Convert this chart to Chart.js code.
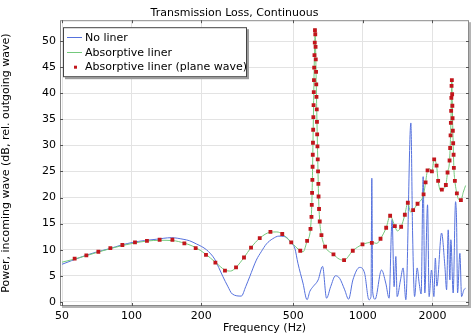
<!DOCTYPE html>
<html>
<head>
<meta charset="utf-8">
<title>Transmission Loss, Continuous</title>
<script src="https://cdn.jsdelivr.net/npm/chart.js@4"></script>
<style>
  html, body { margin: 0; padding: 0; background: #fff; }
  canvas { display: block; }
</style>
</head>
<body>
<canvas id="tl-chart" width="474" height="336"></canvas>
<script>
/* Transmission loss of the duct: no liner vs. absorptive liner */

const xTickValues = [50, 100, 200, 500, 1000, 2000];

// No liner
const noLinerFreq = [50, 55, 61.5, 69.9, 80.3, 90.5, 101.3, 113.8, 127.9, 148.6, 166.9, 178.3, 190.6, 200.9, 210.6,
  219.8, 228.6, 238, 248.5, 260.4, 272.6, 298.2, 311.5, 324.1, 346.3, 363.6, 383, 407.8, 433.6, 452.7, 469.7,
  487.8, 508, 524, 551, 574, 590, 609, 641, 670, 697, 726, 762, 794, 835, 868, 906, 969, 1018, 1063, 1085,
  1094, 1103, 1130, 1205, 1257, 1299, 1339, 1366, 1390, 1408, 1456, 1494, 1535, 1614, 1642, 1675, 1719, 1753,
  1788, 1824, 1855, 1906, 1936, 1983, 2030, 2060, 2091, 2191, 2265, 2304, 2341, 2381, 2404, 2460, 2519, 2544,
  2570, 2630, 2675, 2737, 2784];
const noLinerDb = [7.2, 7.9, 8.7, 9.5, 10.2, 10.9, 11.4, 11.75, 12.0, 12.3, 12.0, 11.7, 11.1, 10.6, 10.0,
  9.2, 8.2, 6.6, 4.8, 3.0, 1.5, 1.1, 2.9, 4.8, 8.0, 9.6, 11.1, 12.1, 12.6, 12.55, 12.3,
  11.4, 10.3, 7.4, 3.6, 0.4, 2.0, 2.9, 4.2, 6.8, 0.7, 2.9, 5.0, 4.5, 2.3, 0.5, 4.2, 6.6, 5.5, 0.4, 1.0,
  23.7, 2.0, 0.5, 6.1, 3.6, 0.7, 15.8, 2.9, 8.7, 1.0, 4.2, 6.5, 0.4, 34.3, 13.2, 1.0, 6.5, 3.6,
  1.5, 24.0, 1.7, 18.6, 1.0, 6.1, 1.0, 8.4, 3.0, 13.2, 6.8, 2.3, 13.8, 4.2, 11.9, 1.7, 19.2, 15.7,
  1.7, 9.3, 1.0, 2.3, 2.6];

// Absorptive liner (full model)
const linerFreq = [50, 56.7, 63.7, 71.8, 80.9, 91.2, 103.4, 116.5, 132.2, 150.1, 169.1, 189.3, 209.7, 230.3,
  253.4, 268, 282.9, 306.3, 328.5, 358.2, 398.5, 425, 448.3, 490.3, 536.3, 552, 574.3, 593.9, 601.6, 605.2,
  608.8, 612.5, 616.1, 619.8, 621.5, 624.7, 629.1, 633.5, 638.5, 643.6, 651.3, 662.4, 686.5, 746.7, 790,
  829.9, 905.1, 997, 1094, 1150, 1193, 1262, 1313, 1376, 1410, 1465, 1520, 1566, 1610, 1651, 1725, 1832,
  1869, 1906, 1950, 1990, 2036, 2085, 2118, 2170, 2198, 2287, 2326, 2373, 2397, 2411, 2421, 2428, 2435,
  2445, 2460, 2477, 2502, 2552, 2600, 2657, 2720, 2784];
const linerDb = [7.6, 8.2, 8.85, 9.55, 10.2, 10.8, 11.3, 11.65, 11.8, 11.75, 11.25, 10.4, 9.1, 7.6,
  6.1, 5.9, 6.6, 8.5, 10.4, 12.2, 13.35, 13.4, 13.0, 11.4, 9.8, 9.6, 11.7, 14.0, 18.6, 23.4,
  30.5, 37.7, 44.9, 49.7, 52.4, 48.9, 41.7, 34.5, 27.3, 20.2, 15.4, 12.8, 10.6, 9.1, 8.2,
  8.0, 9.8, 11.0, 11.4, 11.2, 12.1, 14.2, 16.5, 14.5, 13.6, 14.4, 16.7, 19.0, 17.2, 17.6, 18.8, 20.6,
  22.9, 25.2, 25.5, 25.0, 27.3, 26.1, 23.2, 21.3, 21.5, 22.4, 24.8, 27.1, 31.9, 36.6, 41.4, 42.6, 39.8,
  35.2, 30.4, 25.7, 23.2, 20.8, 19.6, 19.5, 21.0, 22.3];

// Absorptive liner (plane wave approximation), drawn as markers
const planeFreq = [56.7, 63.7, 71.8, 80.9, 91.2, 103.4, 116.5, 132.2, 150.1, 169.1, 189.3, 209.7, 230.3, 253.4,
  282.9, 306.3, 328.5, 358.2, 398.5, 448.3, 490.3, 536.3, 574.3, 593.9, 599.8, 601.6, 603.4, 605.2, 606.4,
  607.6, 608.8, 610.1, 611.2, 612.5, 613.7, 614.9, 616.1, 617.9, 619.8, 621.0, 622.9, 624.7, 626.0, 627.8,
  629.1, 630.3, 632.2, 633.5, 634.7, 636.6, 638.5, 640.4, 642.3, 643.6, 646.8, 651.3, 662.4, 686.5, 746.7,
  829.9, 905.1, 997, 1094, 1193, 1262, 1313, 1376, 1465, 1520, 1566, 1651, 1725, 1832, 1869, 1906, 1990,
  2036, 2085, 2118, 2198, 2287, 2326, 2373, 2387, 2397, 2404, 2411, 2416, 2421, 2428, 2435, 2440, 2445,
  2452, 2460, 2470, 2477, 2502, 2552, 2657];
const planeDb = [8.3, 8.9, 9.6, 10.3, 10.9, 11.4, 11.7, 11.9, 11.9, 11.2, 10.3, 9.0, 7.5, 6.0,
  6.6, 8.5, 10.4, 12.2, 13.4, 13.0, 11.4, 9.8, 11.7, 14.0, 16.3, 18.6, 20.9, 23.4, 25.9,
  28.2, 30.5, 33.0, 35.4, 37.7, 40.2, 42.5, 44.9, 47.3, 49.7, 52.1, 51.3, 48.9, 46.5, 44.1,
  41.7, 39.3, 36.9, 34.5, 32.1, 29.8, 27.3, 25.0, 22.6, 20.2, 17.8, 15.4, 12.8, 10.6, 9.1,
  8.0, 9.8, 11.0, 11.3, 12.1, 14.2, 16.5, 14.5, 14.4, 16.7, 19.0, 17.6, 18.8, 20.6, 22.9, 25.2, 25.0,
  27.3, 26.1, 23.2, 21.5, 22.4, 24.8, 27.1, 29.5, 31.9, 34.3, 36.6, 39.1, 41.4, 42.5, 39.8, 37.6, 35.2,
  32.8, 30.4, 28.2, 25.7, 23.2, 20.8, 19.5];

const FONT = "'DejaVu Sans', sans-serif";
const BLUE = '#5571dd';
const GREEN = '#74c97c';
const RED = '#c2161c';

const toPoints = (xs, ys) => xs.map((x, i) => ({ x, y: ys[i] }));

// plot frame with shadow + small inward ticks on all four sides
const framePlugin = {
  id: 'frame',
  afterDraw(chart) {
    const { ctx, chartArea: a } = chart;
    const sx = chart.scales.x, sy = chart.scales.y;
    ctx.save();
    ctx.fillStyle = '#b4b4b4';
    ctx.fillRect(a.right, a.top + 2, 2, a.bottom - a.top);
    ctx.fillRect(a.left + 2, a.bottom, a.right - a.left, 2);
    ctx.strokeStyle = '#8a8a8a';
    ctx.lineWidth = 1;
    ctx.strokeRect(a.left + 0.5, a.top + 0.5, a.right - a.left - 1, a.bottom - a.top - 1);

    ctx.strokeStyle = '#555';
    ctx.beginPath();
    sx.ticks.forEach(t => {
      const px = Math.round(sx.getPixelForValue(t.value)) + 0.5;
      ctx.moveTo(px, a.bottom); ctx.lineTo(px, a.bottom - 3);
      ctx.moveTo(px, a.top); ctx.lineTo(px, a.top + 3);
    });
    sy.ticks.forEach(t => {
      const py = Math.round(sy.getPixelForValue(t.value)) + 0.5;
      ctx.moveTo(a.left, py); ctx.lineTo(a.left + 3, py);
      ctx.moveTo(a.right, py); ctx.lineTo(a.right - 3, py);
    });
    ctx.stroke();
    ctx.restore();
  }
};

// boxed legend in the upper left corner of the plot
const legendBoxPlugin = {
  id: 'legendBox',
  afterDraw(chart) {
    const { ctx, chartArea: a } = chart;
    const x = a.left + 3, y = a.top + 7, w = 184, h = 50;
    ctx.save();
    ctx.fillStyle = '#9c9c9c';
    ctx.fillRect(x + 2, y + 2, w, h);
    ctx.fillStyle = '#fff';
    ctx.fillRect(x, y, w, h);
    ctx.strokeStyle = '#444';
    ctx.lineWidth = 1;
    ctx.strokeRect(x + 0.5, y + 0.5, w - 1, h - 1);

    ctx.font = `11px ${FONT}`;
    ctx.textBaseline = 'middle';
    chart.data.datasets.forEach((ds, i) => {
      const cy = y + 11 + i * 14.5;
      if (ds.showLine === false) {
        ctx.fillStyle = ds.backgroundColor;
        ctx.fillRect(x + 11, cy - 1.5, 3, 3);
      } else {
        ctx.strokeStyle = ds.borderColor;
        ctx.beginPath();
        ctx.moveTo(x + 4, Math.round(cy) - 0.5);
        ctx.lineTo(x + 19, Math.round(cy) - 0.5);
        ctx.stroke();
      }
      ctx.fillStyle = '#000';
      ctx.fillText(ds.label, x + 22, cy);
    });
    ctx.restore();
  }
};

new Chart(document.getElementById('tl-chart'), {
  type: 'line',
  data: {
    datasets: [
      {
        label: 'No liner',
        data: toPoints(noLinerFreq, noLinerDb),
        borderColor: BLUE,
        borderWidth: 1,
        pointRadius: 0,
        cubicInterpolationMode: 'monotone',
        order: 2,
      },
      {
        label: 'Absorptive liner',
        data: toPoints(linerFreq, linerDb),
        borderColor: GREEN,
        borderWidth: 1,
        pointRadius: 0,
        cubicInterpolationMode: 'monotone',
        order: 1,
      },
      {
        label: 'Absorptive liner (plane wave)',
        data: toPoints(planeFreq, planeDb),
        showLine: false,
        pointStyle: 'rect',
        pointRadius: 2.7,
        backgroundColor: RED,
        borderWidth: 0,
        order: 0,
      },
    ],
  },
  options: {
    responsive: false,
    animation: false,
    devicePixelRatio: 1,
    layout: { padding: { left: 0, right: 5, top: 0, bottom: 0 } },
    plugins: {
      legend: { display: false },
      tooltip: { enabled: false },
      title: {
        display: true,
        text: 'Transmission Loss, Continuous',
        color: '#000',
        font: { family: FONT, size: 11, weight: 'normal' },
        padding: { top: 7, bottom: 0 },
      },
    },
    scales: {
      x: {
        type: 'logarithmic',
        min: 49,
        max: 2880,
        afterBuildTicks: s => { s.ticks = xTickValues.map(v => ({ value: v })); },
        afterFit: s => { s.height = 30; },
        ticks: {
          color: '#000',
          font: { family: FONT, size: 11 },
          padding: 4,
          maxRotation: 0,
          autoSkip: false,
          callback: v => String(v),
        },
        grid: { color: '#e3e3e3', drawTicks: false },
        border: { display: false },
        title: {
          display: true,
          text: 'Frequency (Hz)',
          color: '#000',
          font: { family: FONT, size: 11 },
          padding: { top: 0, bottom: 1.5 },
        },
      },
      y: {
        min: -0.8,
        max: 54,
        afterFit: s => { s.width = 60; },
        ticks: {
          stepSize: 5,
          includeBounds: false,
          color: '#000',
          font: { family: FONT, size: 11 },
          padding: 4,
        },
        grid: { color: '#e3e3e3', drawTicks: false },
        border: { display: false },
        title: {
          display: true,
          text: 'Power, incoming wave (dB, rel. outgoing wave)',
          color: '#000',
          font: { family: FONT, size: 11 },
          padding: { top: 0, bottom: 0 },
        },
      },
    },
  },
  plugins: [framePlugin, legendBoxPlugin],
});
</script>
</body>
</html>
